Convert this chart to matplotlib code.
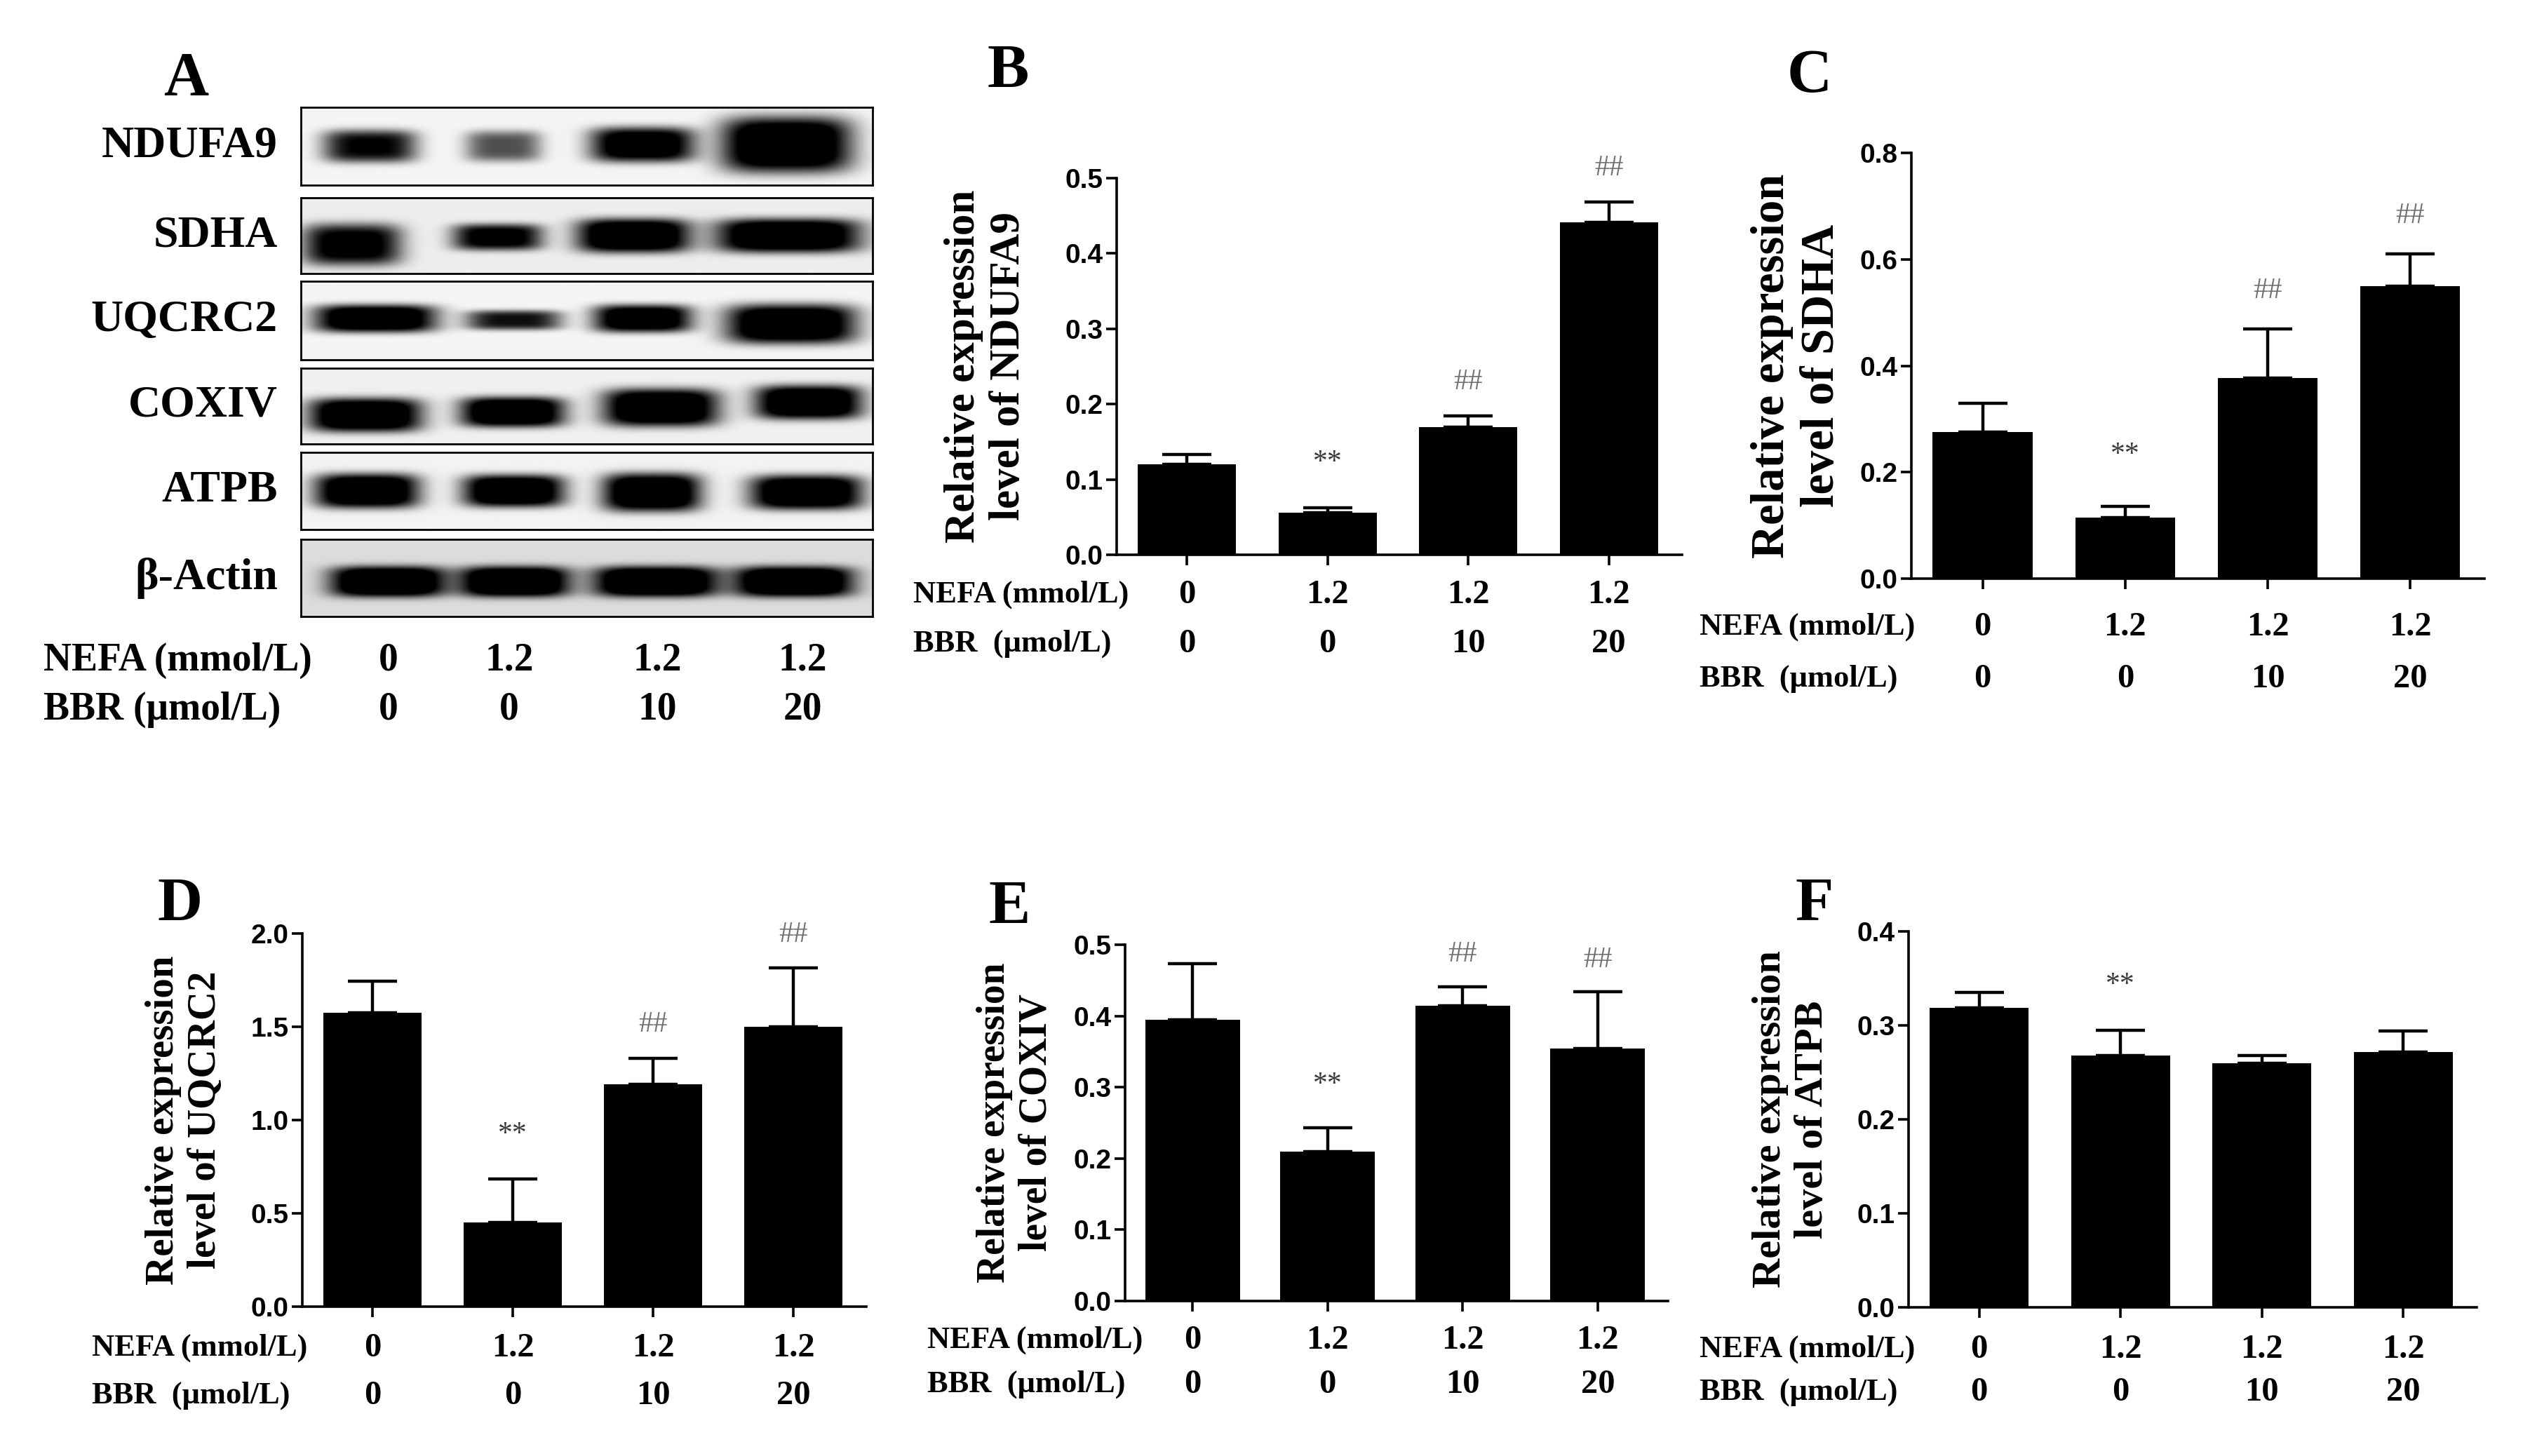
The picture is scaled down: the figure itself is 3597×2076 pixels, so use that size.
import numpy as np
import matplotlib
matplotlib.use('Agg')
import matplotlib.pyplot as plt
from matplotlib.transforms import blended_transform_factory

W, H = 3598, 2076
SERIF = ['Liberation Serif', 'DejaVu Serif']
SANS = ['Liberation Sans Narrow', 'Liberation Sans', 'DejaVu Sans']

# treatment groups
nefa_levels = ['0', '1.2', '1.2', '1.2']
bbr_levels = ['0', '0', '10', '20']

# western blot (panel A): band darkness and rough geometry per lane
proteins = ['NDUFA9', 'SDHA', 'UQCRC2', 'COXIV', 'ATPB', 'β-Actin']
band_strength = [
    [0.75, 0.50, 0.92, 1.00],
    [0.80, 0.80, 1.00, 1.00],
    [1.00, 0.70, 0.95, 1.00],
    [1.00, 1.00, 1.00, 1.00],
    [1.00, 1.00, 1.00, 1.00],
    [1.00, 1.00, 1.00, 1.00],
]
band_x = [
    [0.120, 0.354, 0.598, 0.850],
    [0.089, 0.344, 0.582, 0.853],
    [0.130, 0.372, 0.598, 0.858],
    [0.112, 0.370, 0.630, 0.889],
    [0.115, 0.372, 0.614, 0.885],
    [0.152, 0.374, 0.621, 0.863],
]
band_w = [
    [0.163, 0.132, 0.183, 0.229],
    [0.173, 0.158, 0.198, 0.254],
    [0.214, 0.168, 0.173, 0.229],
    [0.198, 0.183, 0.203, 0.188],
    [0.183, 0.178, 0.173, 0.198],
    [0.203, 0.193, 0.219, 0.209],
]
band_h = [
    [0.42, 0.40, 0.45, 0.72],
    [0.55, 0.35, 0.45, 0.45],
    [0.35, 0.25, 0.35, 0.50],
    [0.45, 0.40, 0.50, 0.45],
    [0.45, 0.42, 0.50, 0.45],
    [0.40, 0.40, 0.40, 0.40],
]
band_y = [
    [0.50, 0.50, 0.48, 0.48],
    [0.62, 0.52, 0.50, 0.50],
    [0.48, 0.50, 0.48, 0.55],
    [0.62, 0.58, 0.52, 0.45],
    [0.50, 0.50, 0.52, 0.52],
    [0.55, 0.55, 0.55, 0.55],
]
blot_background = [0.04, 0.07, 0.04, 0.06, 0.05, 0.14]

# quantification (panels B-F): mean and SEM
ndufa9_mean = [0.120, 0.056, 0.169, 0.441]
ndufa9_sem = [0.013, 0.006, 0.015, 0.027]
sdha_mean = [0.275, 0.115, 0.377, 0.550]
sdha_sem = [0.055, 0.021, 0.092, 0.060]
uqcrc2_mean = [1.574, 0.451, 1.190, 1.501]
uqcrc2_sem = [0.169, 0.232, 0.141, 0.313]
coxiv_mean = [0.395, 0.210, 0.414, 0.354]
coxiv_sem = [0.078, 0.033, 0.027, 0.080]
atpb_mean = [0.319, 0.268, 0.260, 0.2715]
atpb_sem = [0.016, 0.027, 0.008, 0.0225]

marks_main = ['', '**', '##', '##']
marks_atpb = ['', '**', '', '']


def fx(px):
    return px / W


def fy(py):
    return 1 - py / H


fig = plt.figure(figsize=(W / 100, H / 100), dpi=100)
fig.patch.set_facecolor('white')

# ---------------- panel A ----------------
box_rows = [(153, 264), (282, 390), (401, 513), (525, 633), (645, 755), (769, 879)]
box_left, box_right = 429, 1244
nx, ny = 500, 80
xs = np.linspace(0, 1, nx)[None, :]
ys = np.linspace(0, 1, ny)[:, None]
for i, name in enumerate(proteins):
    top, bot = box_rows[i]
    ax = fig.add_axes([fx(box_left), fy(bot), fx(box_right - box_left), (bot - top) / H])
    dark = np.full((ny, nx), blot_background[i])
    for j in range(4):
        dx = (xs - band_x[i][j]) / (band_w[i][j] / 2)
        dy = (ys - band_y[i][j]) / (band_h[i][j] / 2)
        dark = dark + 1.3 * band_strength[i][j] * np.exp(-dx ** 4 - dy ** 4)
    img = 1 - np.clip(dark, 0, 1)
    ax.imshow(img, cmap='gray', vmin=0, vmax=1, aspect='auto',
              extent=(0, 1, 1, 0), interpolation='bilinear')
    ax.set_xticks([])
    ax.set_yticks([])
    for s in ax.spines.values():
        s.set_linewidth(2)
    fig.text(fx(396), fy((top + bot) / 2), name, ha='right', va='center',
             family=SERIF, fontweight='bold', fontsize=46)

lane_px = [554, 726, 937, 1144]
fig.text(fx(62), fy(942), 'NEFA (mmol/L)', ha='left', va='center',
         family=SERIF, fontweight='bold', fontsize=40)
fig.text(fx(62), fy(1012), 'BBR (μmol/L)', ha='left', va='center',
         family=SERIF, fontweight='bold', fontsize=40)
for j in range(4):
    fig.text(fx(lane_px[j]), fy(942), nefa_levels[j], ha='center', va='center',
             family=SERIF, fontweight='bold', fontsize=40)
    fig.text(fx(lane_px[j]), fy(1012), bbr_levels[j], ha='center', va='center',
             family=SERIF, fontweight='bold', fontsize=40)

# ---------------- panels B-F ----------------
panels = [
    dict(letter='B', lpos=(1437, 102), mean=ndufa9_mean, sem=ndufa9_sem, marks=marks_main,
         gene='NDUFA9', ymax=0.5, step=0.1, box=(1592, 254, 2398, 791),
         ylx=1406, ylfs=44, rowx=1302, rowy=(848, 918)),
    dict(letter='C', lpos=(2580, 110), mean=sdha_mean, sem=sdha_sem, marks=marks_main,
         gene='SDHA', ymax=0.8, step=0.2, box=(2725, 218, 3542, 825),
         ylx=2562, ylfs=48, rowx=2423, rowy=(894, 968)),
    dict(letter='D', lpos=(257, 1290), mean=uqcrc2_mean, sem=uqcrc2_sem, marks=marks_main,
         gene='UQCRC2', ymax=2.0, step=0.5, box=(431, 1331, 1235, 1863),
         ylx=263, ylfs=41, rowx=131, rowy=(1922, 1990)),
    dict(letter='E', lpos=(1439, 1295), mean=coxiv_mean, sem=coxiv_sem, marks=marks_main,
         gene='COXIV', ymax=0.5, step=0.1, box=(1604, 1347, 2378, 1855),
         ylx=1448, ylfs=40, rowx=1322, rowy=(1911, 1974)),
    dict(letter='F', lpos=(2587, 1290), mean=atpb_mean, sem=atpb_sem, marks=marks_atpb,
         gene='ATPB', ymax=0.4, step=0.1, box=(2721, 1328, 3531, 1864),
         ylx=2554, ylfs=42, rowx=2423, rowy=(1924, 1985)),
]

fig.text(fx(265), fy(114), 'A', ha='center', va='center', family=SERIF,
         fontweight='bold', fontsize=64)

for p in panels:
    l, t, r, b = p['box']
    ax = fig.add_axes([fx(l), fy(b), fx(r - l), (b - t) / H])
    x = np.arange(4)
    ax.bar(x, p['mean'], width=0.7, color='black', edgecolor='none', zorder=2)
    ax.errorbar(x, p['mean'], yerr=[np.zeros(4), p['sem']], fmt='none',
                ecolor='black', elinewidth=3.2, capsize=25, capthick=3.2, zorder=3)
    ax.set_xlim(-0.5, 3.52)
    ax.set_ylim(0, p['ymax'])
    ticks = np.arange(0, p['ymax'] + p['step'] / 2, p['step'])
    ax.set_yticks(ticks)
    ax.set_yticklabels([f'{v:.1f}' for v in ticks], family=SANS,
                       fontweight='bold', fontsize=28)
    ax.set_xticks(x)
    ax.set_xticklabels([''] * 4)
    ax.tick_params(axis='both', direction='out', length=11, width=2.6, pad=3)
    for s in ['top', 'right']:
        ax.spines[s].set_visible(False)
    for s in ['left', 'bottom']:
        ax.spines[s].set_linewidth(2.6)

    # significance marks above error bars
    for i, m in enumerate(p['marks']):
        if not m:
            continue
        top = p['mean'][i] + p['sem'][i]
        off = 0.12 if m == '**' else 0.09
        ax.text(i, top + off * p['ymax'], m, ha='center', va='center',
                family=SERIF, fontsize=30, color='#3a3a3a' if m == '**' else '#707070',
                clip_on=False)

    # y label
    fig.text(fx(p['ylx']), fy((t + b) / 2), 'Relative expression\nlevel of ' + p['gene'],
             rotation=90, ha='center', va='center', multialignment='center',
             family=SERIF, fontweight='bold', fontsize=p['ylfs'], linespacing=1.2)

    # treatment rows
    tr = blended_transform_factory(ax.transData, fig.transFigure)
    ny_, by_ = p['rowy']
    fig.text(fx(p['rowx']), fy(ny_), 'NEFA (mmol/L)', ha='left', va='center',
             family=SERIF, fontweight='bold', fontsize=32)
    fig.text(fx(p['rowx']), fy(by_), 'BBR  (μmol/L)', ha='left', va='center',
             family=SERIF, fontweight='bold', fontsize=32)
    for i in range(4):
        ax.text(i, fy(ny_), nefa_levels[i], transform=tr, ha='center', va='center',
                family=SERIF, fontweight='bold', fontsize=35)
        ax.text(i, fy(by_), bbr_levels[i], transform=tr, ha='center', va='center',
                family=SERIF, fontweight='bold', fontsize=35)

    fig.text(fx(p['lpos'][0]), fy(p['lpos'][1]), p['letter'], ha='center', va='center',
             family=SERIF, fontweight='bold', fontsize=64)

fig.savefig('out.png', dpi=100, facecolor='white')
